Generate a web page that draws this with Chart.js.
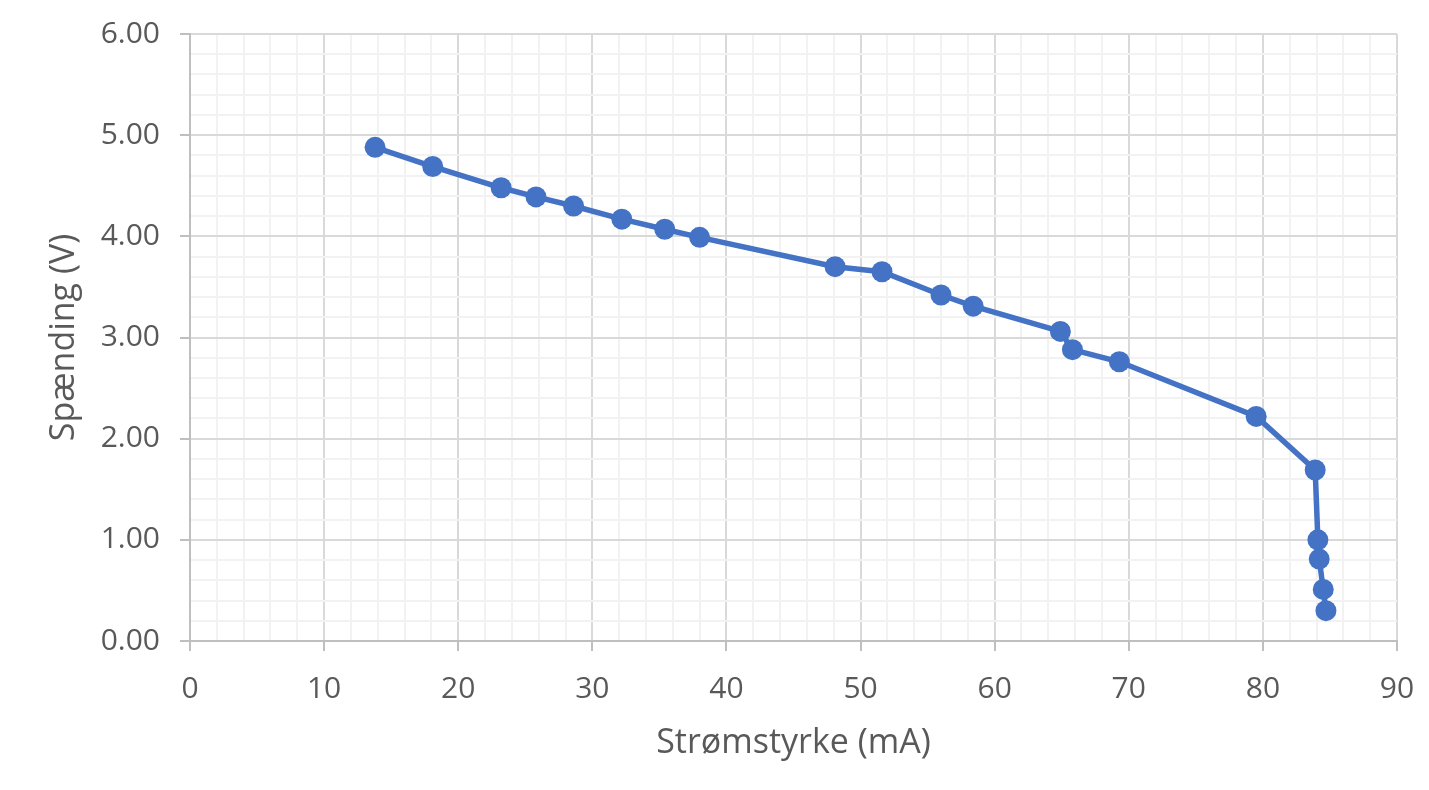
<!DOCTYPE html>
<html>
<head>
<meta charset="utf-8">
<script src="https://cdn.jsdelivr.net/npm/chart.js@4.4.0/dist/chart.umd.min.js"></script>
<style>
html,body{margin:0;padding:0;background:#fff;}
#wrap{width:1429px;height:790px;position:relative;}
</style>
</head>
<body>
<div id="wrap"><canvas id="c" width="1429" height="790"></canvas></div>
<script>
const currentMA = [13.8, 18.1, 23.2, 25.8, 28.6, 32.2, 35.4, 38.0, 48.1, 51.6, 56.0, 58.4, 64.9, 65.8, 69.3, 79.5, 83.9, 84.1, 84.2, 84.5, 84.7];
const voltageV  = [4.88, 4.69, 4.48, 4.39, 4.30, 4.17, 4.07, 3.99, 3.70, 3.65, 3.42, 3.31, 3.06, 2.88, 2.76, 2.22, 1.69, 1.00, 0.81, 0.51, 0.30];
const xTitle = 'Strømstyrke (mA)';
const yTitle = 'Spænding (V)';

const points = currentMA.map((x, i) => ({x: x, y: voltageV[i]}));
const FONT = "'Open Sans', 'Noto Sans', sans-serif";
const TXT = '#595959';
const isMajor = (v, step) => Math.abs(v / step - Math.round(v / step)) < 1e-6;
const zeroPad = s => { s.paddingTop = 0; s.paddingBottom = 0; s.paddingLeft = 0; s.paddingRight = 0; };

new Chart(document.getElementById('c'), {
  type: 'scatter',
  data: {
    datasets: [{
      data: points,
      showLine: true,
      borderColor: '#4472C4',
      backgroundColor: '#4472C4',
      borderWidth: 5.5,
      pointRadius: 10.5,
      pointHoverRadius: 10.5,
      pointBorderWidth: 0,
      tension: 0,
      clip: false
    }]
  },
  options: {
    responsive: false,
    devicePixelRatio: 1,
    animation: false,
    layout: {autoPadding: false, padding: {top: 34, right: 32, left: 0, bottom: 0}},
    plugins: {legend: {display: false}, tooltip: {enabled: false}},
    scales: {
      x: {
        type: 'linear', min: 0, max: 90,
        afterFit: s => { s.height = 149; zeroPad(s); },
        ticks: {
          stepSize: 2, autoSkip: false, maxRotation: 0, padding: 20,
          color: TXT, font: {family: FONT, size: 30},
          callback: v => isMajor(v, 10) ? String(Math.round(v)) : ''
        },
        grid: {
          color: c => isMajor(c.tick.value, 10) ? '#D9D9D9' : '#F2F2F2',
          tickColor: c => isMajor(c.tick.value, 10) ? '#BFBFBF' : 'rgba(0,0,0,0)',
          lineWidth: 2, tickLength: 10, tickWidth: 2
        },
        border: {color: '#BFBFBF', width: 2},
        title: {display: true, text: xTitle, color: TXT, font: {family: FONT, size: 34}, padding: {top: 0, bottom: 26}}
      },
      y: {
        type: 'linear', min: 0, max: 6,
        afterFit: s => { s.width = 190; zeroPad(s); },
        ticks: {
          stepSize: 0.2, autoSkip: false, padding: 20,
          color: TXT, font: {family: FONT, size: 30},
          callback: v => isMajor(v, 1) ? Number(v).toFixed(2) : ''
        },
        grid: {
          color: c => isMajor(c.tick.value, 1) ? '#D9D9D9' : '#F2F2F2',
          tickColor: c => isMajor(c.tick.value, 1) ? '#BFBFBF' : 'rgba(0,0,0,0)',
          lineWidth: 2, tickLength: 10, tickWidth: 2
        },
        border: {color: '#BFBFBF', width: 2},
        title: {display: true, text: yTitle, color: TXT, font: {family: FONT, size: 34}, padding: {top: 44, bottom: 0}}
      }
    }
  }
});
</script>
</body>
</html>
